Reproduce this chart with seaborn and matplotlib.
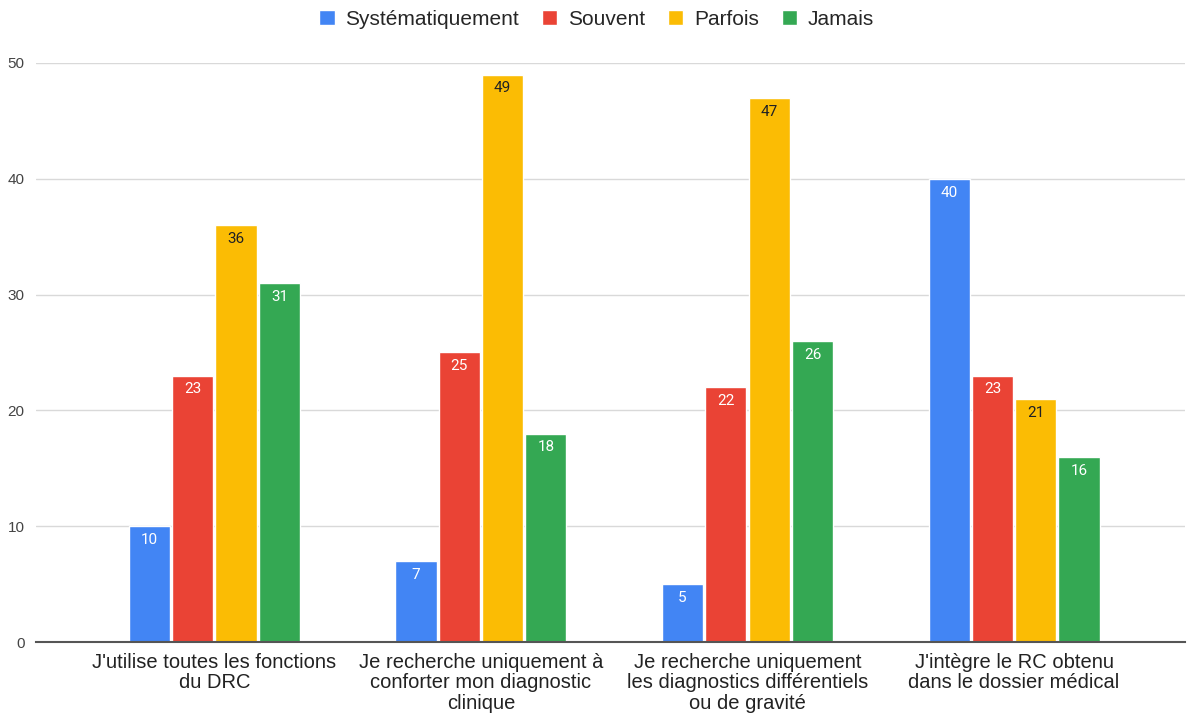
import pandas as pd
import matplotlib
matplotlib.use("Agg")
import matplotlib.pyplot as plt
import seaborn as sns

# donnees
categories = [
    "J'utilise toutes les fonctions\ndu DRC",
    "Je recherche uniquement à\nconforter mon diagnostic\nclinique",
    "Je recherche uniquement\nles diagnostics différentiels\nou de gravité",
    "J'intègre le RC obtenu\ndans le dossier médical",
]
series = ["Systématiquement", "Souvent", "Parfois", "Jamais"]
systematiquement = [10, 7, 5, 40]
souvent = [23, 25, 22, 23]
parfois = [36, 49, 47, 21]
jamais = [31, 18, 26, 16]
couleurs = ["#4285F4", "#EA4335", "#FBBC04", "#34A853"]
couleurs_texte = ["white", "white", "#202124", "white"]

valeurs = [systematiquement, souvent, parfois, jamais]
lignes = []
for s, vals in zip(series, valeurs):
    for c, v in zip(categories, vals):
        lignes.append({"Question": c, "Reponse": s, "Nombre": v})
df = pd.DataFrame(lignes)

sns.set_style("white")
plt.rcParams["font.family"] = ["Liberation Sans", "DejaVu Sans"]

fig = plt.figure(figsize=(11.93, 7.15), dpi=100)
ax = fig.add_axes([0.030, 0.102, 0.963, 0.810])

sns.barplot(
    data=df, x="Question", y="Nombre", hue="Reponse",
    hue_order=series, order=categories, palette=couleurs,
    width=0.65, gap=0.05, saturation=1, legend=True, ax=ax,
)

# etiquettes dans le haut des barres
for cont, col in zip(ax.containers, couleurs_texte):
    ax.bar_label(cont, label_type="edge", padding=-15, color=col,
                 fontsize=11, family=["Roboto", "DejaVu Sans"])

ax.set_ylim(0, 50)
ax.set_xlim(-0.67, 3.64)
ax.set_yticks(range(0, 51, 10))
ax.grid(axis="y", color="#d9d9d9", linewidth=1)
ax.set_axisbelow(True)
for side in ["top", "right", "left"]:
    ax.spines[side].set_visible(False)
ax.spines["bottom"].set_color("#555555")
ax.spines["bottom"].set_linewidth(1.5)
ax.tick_params(axis="both", length=0, colors="#222222")
ax.tick_params(axis="x", labelsize=14.5, pad=8)
ax.tick_params(axis="y", labelsize=11, colors="#444444", pad=8)
for t in ax.get_xticklabels():
    t.set_linespacing(1.08)
ax.set_xlabel("")
ax.set_ylabel("")

handles, labels = ax.get_legend_handles_labels()
ax.legend_.remove()
fig.legend(
    handles, labels, loc="center", bbox_to_anchor=(0.5, 0.973), ncol=4,
    frameon=False, fontsize=15, handlelength=0.75, handleheight=0.75,
    handletextpad=0.5, columnspacing=1.1,
)

fig.savefig("out.png", dpi=100)
